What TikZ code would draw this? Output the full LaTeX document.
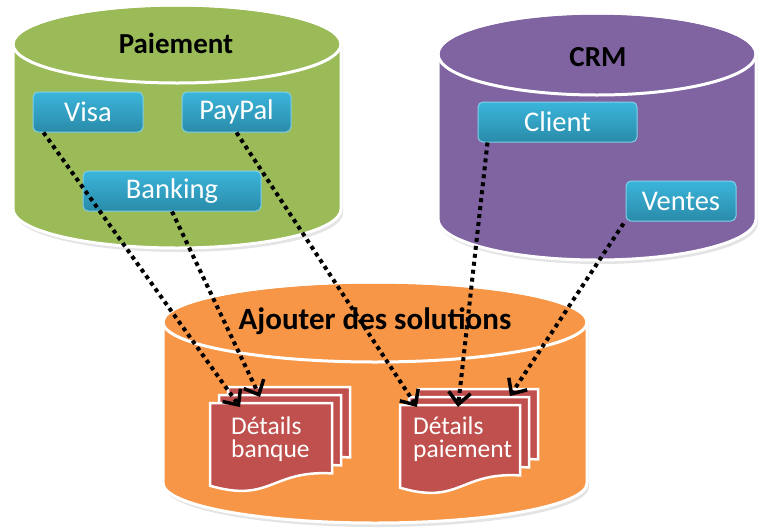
\documentclass[tikz,border=0pt]{standalone}
\usepackage{fontspec}
\setmainfont{Carlito}
\usetikzlibrary{arrows.meta,calc}
\definecolor{cgreen}{HTML}{9BBB59}
\definecolor{cpurple}{HTML}{8064A2}
\definecolor{corange}{HTML}{F79646}
\definecolor{cdoc}{HTML}{C0504D}
\definecolor{boxtop}{HTML}{3BB5DB}
\definecolor{boxbot}{HTML}{2A8BA9}
\definecolor{boxedge}{HTML}{7FD0E8}
% cylinder path: cx, ytop, ybottom, rx, ry
\newcommand\cylpath[5]{({#1-#4},#2) -- ({#1-#4},#3) arc[start angle=180,end angle=0,x radius=#4,y radius=#5] -- ({#1+#4},#2) arc[start angle=0,end angle=-180,x radius=#4,y radius=#5] -- cycle}
% document page path: x0, y0, w, h
\newcommand\docpath[4]{(#1,#2) -- ({#1+#3},#2) -- ({#1+#3},{#2+0.80*#4}) .. controls ({#1+0.5*#3},{#2+0.76*#4}) and ({#1+0.5*#3},{#2+1.14*#4}) .. (#1,{#2+0.94*#4}) -- cycle}
\newcommand\mycyl[6]{%
  \fill[black!30,opacity=0.35] [shift={(2,4)}] \cylpath{#2}{#3}{#4}{#5}{#6};
  \filldraw[fill=#1,draw=white,line width=3pt] \cylpath{#2}{#3}{#4}{#5}{#6};
  \draw[white,line width=3pt] (#2,#3) ellipse[x radius=#5,y radius=#6];}
\newcommand\mydocs[4]{%
  \filldraw[docstyle] \docpath{#1+18}{#2-16}{#3}{#4};
  \filldraw[docstyle] \docpath{#1+9}{#2-8}{#3}{#4};
  \filldraw[docstyle] \docpath{#1}{#2}{#3}{#4};}
\tikzset{
  x=1pt, y=-1pt,
  bluebox/.style={rounded corners=5pt, top color=boxtop, bottom color=boxbot,
    draw=boxedge, line width=1pt, text=white, font=\fontsize{28.5}{30}\selectfont,
    inner sep=0pt, minimum height=40pt},
  title/.style={font=\bfseries\fontsize{29}{31}\selectfont, text=black, inner sep=0pt},
  docstyle/.style={fill=cdoc, draw=white, line width=2.5pt, line join=miter},
  pagetext/.style={text=white, font=\fontsize{25.5}{23}\selectfont, align=left, inner sep=0pt, anchor=north west},
  frontpage/.style={inner sep=0pt, minimum width=#1, minimum height=88pt, anchor=north west},
  conn/.style={line width=4pt, dash pattern=on 4pt off 4pt,
    -{Straight Barb[length=12pt,width=22pt,line width=3.5pt]}},
}
\begin{document}
\begin{tikzpicture}
\useasboundingbox (0,0) rectangle (758,528);
% cylinders
\mycyl{cgreen}{177}{44}{209}{164}{39}
\mycyl{cpurple}{597}{54}{219}{159}{41}
\mycyl{corange}{375}{322}{483}{212}{40}
% titles
\node[title] (tpay) at (176,43) {Paiement};
\node[title] (tcrm) at (598,57) {CRM};
\node[title, font=\bfseries\fontsize{31}{33}\selectfont] (tadd) at (375,321) {Ajouter des solutions};
% blue boxes
\node[bluebox, minimum width=110pt] (visa) at (88,112) {Visa};
\node[bluebox, minimum width=109pt] (paypal) at (236.5,112) {PayPal};
\node[bluebox, minimum width=178pt] (banking) at (172,191) {Banking};
\node[bluebox, minimum width=159pt] (client) at (557.5,122) {Client};
\node[bluebox, minimum width=110pt] (ventes) at (681,201) {Ventes};
% document stacks
\mydocs{210}{403}{122}{88}
\mydocs{400}{405}{120}{88}
\node[frontpage=122pt] (bq) at (210,403) {};
\node[frontpage=120pt] (pm) at (400,405) {};
\node[pagetext] (bqt) at ($(bq.north west)+(21,14)$) {Détails\\banque};
\node[pagetext] (pmt) at ($(pm.north west)+(13,12)$) {Détails\\paiement};
% connectors
\draw[conn] ($(visa.south west)+(11,0)$) -- ($(bq.north west)+(30,4)$);
\draw[conn] ($(banking.south)+(0,0)$) -- ($(bq.north west)+(50,-6)$);
\draw[conn] ($(paypal.south)+(0,0)$) -- ($(pm.north west)+(17,2)$);
\draw[conn] ($(client.south west)+(10,0)$) -- ($(pm.north west)+(58,2)$);
\draw[conn] ($(ventes.south west)+(-2,2)$) -- ($(pm.north west)+(110,-9)$);
\end{tikzpicture}
\end{document}
